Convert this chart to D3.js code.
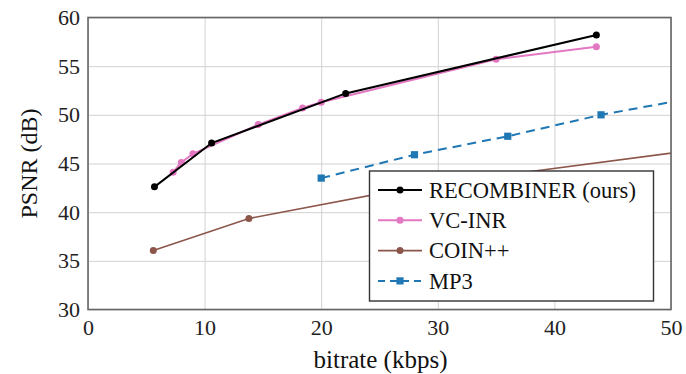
<!DOCTYPE html>
<html>
<head>
<meta charset="utf-8">
<script src="https://cdn.jsdelivr.net/npm/d3@7"></script>
<style>
  body { margin: 0; background: #fff; }
</style>
</head>
<body>
<script>
// values
var xTicks = [0, 10, 20, 30, 40, 50];
var yTicks = [30, 35, 40, 45, 50, 55, 60];

var recombinerX = [5.7, 10.6, 22.1, 43.6];
var recombinerY = [42.6, 47.1, 52.2, 58.2];

var vcinrX = [7.3, 8.0, 9.0, 14.6, 18.4, 20.0, 35.0, 43.6];
var vcinrY = [44.1, 45.1, 46.0, 49.0, 50.7, 51.3, 55.7, 57.0];

var coinX = [5.6, 13.8, 28.5, 56];
var coinY = [36.05, 39.35, 42.7, 47.0];

var mp3X = [20, 28, 36, 44, 52];
var mp3Y = [43.5, 45.9, 47.8, 50.0, 51.75];

var series = [
  { name: "VC-INR", xs: vcinrX, ys: vcinrY, color: "#e377c2", width: 2, dash: null, marker: "circle", r: 3.5 },
  { name: "COIN++", xs: coinX, ys: coinY, color: "#8c564b", width: 1.6, dash: null, marker: "circle", r: 3.5 },
  { name: "MP3", xs: mp3X, ys: mp3Y, color: "#1f77b4", width: 2, dash: "9,6", marker: "square", r: 3.6 },
  { name: "RECOMBINER (ours)", xs: recombinerX, ys: recombinerY, color: "#000000", width: 2, dash: null, marker: "circle", r: 3.5 }
];
var legendOrder = ["RECOMBINER (ours)", "VC-INR", "COIN++", "MP3"];

var serif = "'Liberation Serif', 'Times New Roman', serif";

function drawChart() {
  var width = 686, height = 374;
  var pl = 88, pr = 671, pt = 17.5, pb = 309.5;

  var svg = d3.select("body").append("svg")
    .attr("width", width)
    .attr("height", height)
    .attr("font-family", serif);

  var x = d3.scaleLinear().domain([0, 50]).range([pl, pr]);
  var y = d3.scaleLinear().domain([30, 60]).range([pb, pt]);

  svg.append("clipPath").attr("id", "clip")
    .append("rect")
    .attr("x", pl).attr("y", pt)
    .attr("width", pr - pl).attr("height", pb - pt);

  // grid
  svg.append("g")
    .attr("transform", "translate(0," + pb + ")")
    .call(d3.axisBottom(x).tickValues(xTicks).tickSize(-(pb - pt)).tickFormat(""))
    .call(function (g) {
      g.select(".domain").remove();
      g.selectAll("line").attr("stroke", "#d2d2d2").attr("stroke-width", 1);
    });
  svg.append("g")
    .attr("transform", "translate(" + pl + ",0)")
    .call(d3.axisLeft(y).tickValues(yTicks).tickSize(-(pr - pl)).tickFormat(""))
    .call(function (g) {
      g.select(".domain").remove();
      g.selectAll("line").attr("stroke", "#d2d2d2").attr("stroke-width", 1);
    });

  // tick labels
  var xAxis = svg.append("g")
    .attr("transform", "translate(0," + pb + ")")
    .call(d3.axisBottom(x).tickValues(xTicks).tickSize(0).tickPadding(10));
  xAxis.attr("font-family", serif).attr("font-size", 22);
  xAxis.select(".domain").remove();
  xAxis.selectAll("text").attr("fill", "#222");

  var yAxis = svg.append("g")
    .attr("transform", "translate(" + pl + ",0)")
    .call(d3.axisLeft(y).tickValues(yTicks).tickSize(0).tickPadding(8));
  yAxis.attr("font-family", serif).attr("font-size", 22);
  yAxis.select(".domain").remove();
  yAxis.selectAll("text").attr("fill", "#222");

  // series
  var plot = svg.append("g").attr("clip-path", "url(#clip)");
  var line = d3.line().x(function (d) { return x(d[0]); }).y(function (d) { return y(d[1]); });

  series.forEach(function (s) {
    var pts = s.xs.map(function (v, i) { return [v, s.ys[i]]; });
    plot.append("path")
      .attr("d", line(pts))
      .attr("fill", "none")
      .attr("stroke", s.color)
      .attr("stroke-width", s.width)
      .attr("stroke-dasharray", s.dash);
    if (s.marker == "circle") {
      plot.selectAll(null).data(pts).enter().append("circle")
        .attr("cx", function (d) { return x(d[0]); })
        .attr("cy", function (d) { return y(d[1]); })
        .attr("r", s.r)
        .attr("fill", s.color);
    } else {
      plot.selectAll(null).data(pts).enter().append("rect")
        .attr("x", function (d) { return x(d[0]) - s.r; })
        .attr("y", function (d) { return y(d[1]) - s.r; })
        .attr("width", s.r * 2).attr("height", s.r * 2)
        .attr("fill", s.color);
    }
  });

  // frame
  svg.append("rect")
    .attr("x", pl).attr("y", pt)
    .attr("width", pr - pl).attr("height", pb - pt)
    .attr("fill", "none").attr("stroke", "#666").attr("stroke-width", 1.6);

  // axis labels
  svg.append("text")
    .attr("x", (pl + pr) / 2 + 1).attr("y", 368)
    .attr("text-anchor", "middle").attr("font-size", 25).attr("fill", "#111")
    .text("bitrate (kbps)");
  svg.append("text")
    .attr("transform", "translate(37," + ((pt + pb) / 2) + ") rotate(-90)")
    .attr("text-anchor", "middle").attr("font-size", 24).attr("fill", "#111")
    .text("PSNR (dB)");

  // legend
  var lg = svg.append("g");
  lg.append("rect")
    .attr("x", 369.5).attr("y", 171).attr("width", 284).attr("height", 130)
    .attr("fill", "#fff").attr("stroke", "#333").attr("stroke-width", 1.4);

  legendOrder.forEach(function (name, i) {
    var s = series.find(function (d) { return d.name == name; });
    var cy = 190 + i * 30.3;
    lg.append("line")
      .attr("x1", 378).attr("x2", 422).attr("y1", cy).attr("y2", cy)
      .attr("stroke", s.color).attr("stroke-width", s.width)
      .attr("stroke-dasharray", s.dash ? "7,5" : null);
    if (s.marker == "circle") {
      lg.append("circle").attr("cx", 400).attr("cy", cy).attr("r", s.r).attr("fill", s.color);
    } else {
      lg.append("rect").attr("x", 400 - s.r).attr("y", cy - s.r)
        .attr("width", s.r * 2).attr("height", s.r * 2).attr("fill", s.color);
    }
    lg.append("text")
      .attr("x", 429).attr("y", cy).attr("dy", "0.35em")
      .attr("font-size", 22.5).attr("fill", "#111")
      .text(name);
  });
}

drawChart();
</script>
</body>
</html>
